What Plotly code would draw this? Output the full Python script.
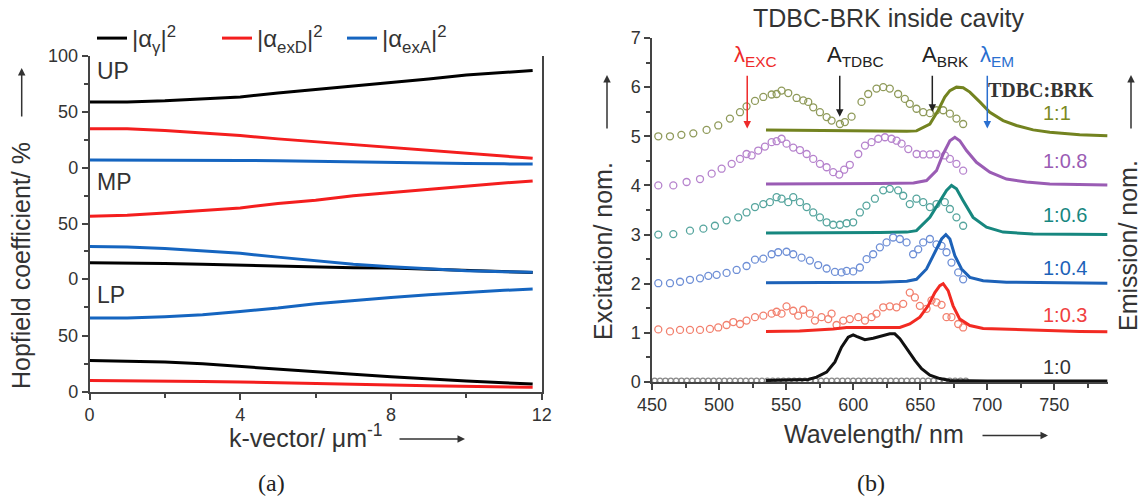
import plotly.graph_objects as go

W, H = 1141, 497
FONT = "Liberation Sans, Arial, sans-serif"

# ---------------- panel (a): Hopfield coefficients ----------------
k_vec = [0, 1, 2, 3, 4, 5, 6, 7, 8, 9, 10, 11, 11.76]
up_photon = [59, 59, 60, 61.5, 63.5, 67, 70, 73.5, 76.5, 79.5, 83, 85.5, 87.1]
up_exD = [35, 35, 33.5, 31.5, 29, 26, 23.5, 21, 18.5, 15.5, 13, 10.5, 8.7]
up_exA = [7.2, 7.2, 7.2, 7.0, 6.8, 6.5, 5.9, 5.5, 5.0, 4.5, 4.0, 3.7, 3.6]
mp_photon = [14.7, 14.5, 13.9, 13.2, 12.4, 11.5, 10.5, 10.1, 9.8, 8.7, 7.5, 6.5, 5.8]
mp_exD = [56.5, 57.5, 59.5, 61.5, 64, 68, 71, 75, 78, 81, 83.5, 86.5, 88.4]
mp_exA = [29.2, 28.8, 27.5, 25.4, 23.1, 19.7, 16.2, 13.3, 11, 9, 7.5, 6.6, 6.1]
lp_photon = [27.8, 27.5, 26.6, 24.9, 22.5, 20.1, 18, 15.7, 13.6, 11.5, 9.8, 8.2, 7.1]
lp_exD = [10.1, 10, 9.7, 9.2, 8.8, 8.3, 7.6, 6.8, 6.2, 5.6, 5.0, 4.4, 4.1]
lp_exA = [65.4, 65.4, 66.5, 68.3, 71.3, 74.3, 78.1, 81.1, 83.7, 86.1, 88.2, 90, 91.1]
legend_names = ["|α<sub>γ</sub>|<sup>2</sup>", "|α<sub>exD</sub>|<sup>2</sup>", "|α<sub>exA</sub>|<sup>2</sup>"]
panel_labels = ["UP", "MP", "LP"]
k_ticks = [0, 4, 8, 12]

# ---------------- panel (b): excitation (circles) and emission (lines) ----------------
ratio_labels = ["1:1", "1:0.8", "1:0.6", "1:0.4", "1:0.3", "1:0"]
ratio_label_y = [5.47, 4.49, 3.39, 2.33, 1.36, 0.30]

exc_11_wl = [454.7, 463.4, 471.9, 480.8, 490.7, 499.4, 508.1, 515.6, 520.5, 526.8, 533, 539.2, 542.9, 546.6,
             551.6, 557.8, 562.8, 566.5, 570.2, 575.2, 580.2, 583.9, 590.1, 593.8, 598.8, 606.2, 611.2, 617.4,
             622.4, 627.3, 633.5, 638.5, 642.2, 647.2, 652.2, 657.2, 662.1, 667.1, 672.1, 677, 682]
exc_11 = [5.0, 5.0, 5.03, 5.06, 5.13, 5.22, 5.36, 5.49, 5.61, 5.72, 5.80, 5.85, 5.86, 5.93,
          5.88, 5.78, 5.73, 5.70, 5.59, 5.49, 5.39, 5.32, 5.25, 5.29, 5.40, 5.70, 5.86, 5.97,
          6.0, 5.97, 5.86, 5.76, 5.66, 5.56, 5.49, 5.47, 5.53, 5.53, 5.46, 5.36, 5.25]
em_11_wl = [535, 560, 590, 620, 640, 647.2, 657.2, 663.4, 668.3, 672.1, 677, 682, 687, 694.4, 701.9,
            711.8, 721.7, 734.2, 746.6, 768.9, 789.5]
em_11 = [5.13, 5.12, 5.11, 5.10, 5.10, 5.11, 5.25, 5.53, 5.80, 5.93, 6.0, 5.99, 5.90, 5.70, 5.49,
         5.32, 5.22, 5.13, 5.08, 5.03, 5.01]

exc_108_wl = [454.7, 465.9, 475.8, 485.8, 494.5, 501.9, 509.4, 515.6, 520.5, 524.3, 529.2, 534.2, 539.2,
              542.9, 546.6, 550.3, 555.3, 560.3, 565.3, 570.2, 575.2, 580.2, 585.1, 589.6, 593.3, 597.5,
              603.8, 608.8, 613.7, 618.7, 623.7, 628.6, 632.4, 636.1, 641.1, 647.3, 652.2, 657.2, 662.1,
              668.4, 672.1, 677, 682]
exc_108 = [4.0, 4.0, 4.07, 4.13, 4.24, 4.34, 4.44, 4.54, 4.64, 4.61, 4.71, 4.79, 4.88,
           4.90, 4.95, 4.85, 4.77, 4.72, 4.64, 4.54, 4.44, 4.37, 4.27, 4.22, 4.32, 4.42,
           4.64, 4.81, 4.88, 4.95, 4.98, 4.95, 4.91, 4.85, 4.74, 4.64, 4.63, 4.63, 4.64,
           4.61, 4.54, 4.44, 4.30]
em_108_wl = [535, 580, 620, 645, 654.7, 662.1, 667.1, 672.1, 675.8, 679.5, 684.5, 691.9, 701.9, 714.3,
             729.2, 746.6, 768.9, 789.5]
em_108 = [4.03, 4.03, 4.04, 4.05, 4.10, 4.30, 4.64, 4.91, 4.98, 4.91, 4.71, 4.47, 4.27, 4.13,
          4.07, 4.03, 4.02, 4.01]

exc_106_wl = [454.7, 465.9, 478.3, 488.3, 496.9, 505.6, 514.3, 520.5, 526.8, 533, 537.9, 542.9, 546.6,
              551.6, 555.3, 560.3, 565.3, 570.2, 575.2, 580.2, 585.1, 590.1, 595.1, 600, 605, 609.9,
              616.2, 622.4, 627.3, 633.5, 637.3, 642.2, 647.2, 652.2, 657.2, 662.1, 668.3, 672.1, 677, 682]
exc_106 = [3.0, 3.01, 3.08, 3.12, 3.18, 3.29, 3.35, 3.45, 3.56, 3.62, 3.66, 3.76, 3.73,
           3.66, 3.76, 3.66, 3.56, 3.45, 3.35, 3.25, 3.20, 3.20, 3.23, 3.25, 3.45, 3.59,
           3.73, 3.90, 3.93, 3.90, 3.79, 3.62, 3.73, 3.66, 3.56, 3.62, 3.66, 3.52, 3.35, 3.18]
em_106_wl = [535, 580, 620, 640, 647.2, 657.2, 664.6, 669.6, 673.3, 677, 682, 689.4, 699.4, 711.8,
             734.2, 768.9, 789.5]
em_106 = [3.03, 3.03, 3.04, 3.05, 3.08, 3.35, 3.69, 3.90, 4.0, 3.93, 3.69, 3.35, 3.15, 3.05,
          3.01, 3.0, 3.0]

exc_104_wl = [454.7, 463.4, 470.9, 478.3, 485.8, 492, 498.2, 505.6, 513.1, 520.5, 526.8, 533, 539.2,
              544.1, 550.3, 555.3, 561.5, 567.7, 573.9, 580.2, 586.4, 591.3, 595.1, 600, 605, 610,
              614.9, 619.9, 624.9, 629.8, 634.8, 639.8, 644.7, 648.5, 652.2, 657.2, 662.1, 665.9,
              669.6, 673.3, 678.3, 682]
exc_104 = [2.01, 2.01, 2.04, 2.08, 2.11, 2.16, 2.18, 2.22, 2.28, 2.36, 2.49, 2.51, 2.60,
           2.64, 2.65, 2.60, 2.53, 2.47, 2.38, 2.31, 2.24, 2.23, 2.26, 2.25, 2.33, 2.50,
           2.60, 2.74, 2.84, 2.94, 2.91, 2.84, 2.60, 2.70, 2.84, 2.91, 2.80, 2.77,
           2.64, 2.43, 2.23, 2.09]
em_104_wl = [535, 580, 620, 640, 647.2, 654.7, 660.9, 665.9, 669.1, 672.1, 675.8, 680.8, 687, 696.9,
             714.3, 768.9, 789.5]
em_104 = [2.02, 2.02, 2.03, 2.05, 2.09, 2.30, 2.64, 2.91, 3.0, 2.91, 2.57, 2.30, 2.13, 2.06,
          2.03, 2.01, 2.01]

exc_103_wl = [454.7, 463.4, 470.9, 478.3, 485.8, 493.2, 499.4, 505.6, 510.6, 515.6, 520.5, 526.8, 533,
              539.2, 542.9, 546.6, 550.3, 555.3, 559, 562.8, 567.7, 571.5, 576.4, 581.4, 583.9, 587.6,
              592.6, 597.5, 603.8, 608.8, 613.7, 617.4, 622.4, 627.3, 632.3, 637.3, 642.2, 646,
              649.7, 654.7, 658.4, 662.1, 665.9, 669.6, 673.3, 678.3, 682]
exc_103 = [1.07, 1.03, 1.06, 1.06, 1.06, 1.08, 1.11, 1.16, 1.22, 1.18, 1.25, 1.32, 1.35,
           1.39, 1.43, 1.39, 1.54, 1.45, 1.35, 1.47, 1.39, 1.25, 1.32, 1.28, 1.39, 1.16,
           1.25, 1.28, 1.32, 1.25, 1.32, 1.39, 1.52, 1.54, 1.52, 1.59, 1.82, 1.72,
           1.55, 1.49, 1.66, 1.62, 1.57, 1.32, 1.32, 1.18, 1.11]
em_103_wl = [535, 560, 585.1, 595.1, 615, 634.8, 642.2, 649.7, 655.9, 660.9, 664.6, 667.1, 670.8, 674.5,
             679.5, 687, 696.9, 716.8, 768.9, 789.5]
em_103 = [1.03, 1.04, 1.08, 1.11, 1.11, 1.11, 1.18, 1.32, 1.55, 1.82, 1.96, 2.0, 1.86, 1.55,
          1.28, 1.15, 1.09, 1.07, 1.03, 1.02]

exc_10_wl = [452, 456, 460, 464, 468, 472, 476, 480, 484, 488, 492, 496, 500, 504, 508, 512, 516, 520,
             524, 528, 532, 536, 540, 544, 548, 552, 556, 560, 564, 568, 572, 576, 580, 584, 588, 592,
             596, 600, 604, 608, 612, 616, 620, 624, 628, 632, 636, 640, 644, 648, 652, 656, 660, 664,
             668, 672, 676, 680, 684]
exc_10 = [0.03, 0.03, 0.03, 0.03, 0.03, 0.03, 0.03, 0.03, 0.03, 0.03, 0.03, 0.03, 0.03, 0.03, 0.03,
          0.03, 0.03, 0.03, 0.03, 0.03, 0.03, 0.03, 0.03, 0.03, 0.03, 0.03, 0.03, 0.03, 0.03, 0.03,
          0.03, 0.03, 0.03, 0.03, 0.03, 0.03, 0.03, 0.03, 0.03, 0.03, 0.03, 0.03, 0.03, 0.03, 0.03,
          0.03, 0.03, 0.03, 0.03, 0.03, 0.03, 0.03, 0.03, 0.03, 0.03, 0.03, 0.03, 0.03, 0.03]
em_10_wl = [535, 566.5, 572.7, 580.2, 586.4, 591.3, 596.3, 600, 602.5, 608.7, 614.9, 621.1, 627.3, 631,
            634.8, 641, 646, 651, 657.2, 664.6, 672.1, 700, 740, 789.5]
em_10 = [0.03, 0.05, 0.10, 0.20, 0.41, 0.71, 0.91, 0.96, 0.93, 0.86, 0.89, 0.93, 0.98, 0.98,
         0.88, 0.64, 0.44, 0.27, 0.14, 0.07, 0.03, 0.02, 0.02, 0.02]

marker_names = ["λ<sub>EXC</sub>", "A<sub>TDBC</sub>", "A<sub>BRK</sub>", "λ<sub>EM</sub>"]
marker_wl = [521, 590, 659, 700]
marker_tip = [5.16, 5.40, 5.50, 5.16]
marker_text_wl = [527, 602, 669, 707]
marker_colors = ["#ee2a2a", "#222222", "#222222", "#2a6fd0"]

# ---------------- helpers ----------------
def px(x):
    return x / W

def py(y):
    return 1 - y / H

C_BLACK, C_RED, C_BLUE = "#000000", "#f41e1e", "#1565c0"
AX = "#444444"

fig = go.Figure()

panels = [("y", up_photon, up_exD, up_exA), ("y2", mp_photon, mp_exD, mp_exA), ("y3", lp_photon, lp_exD, lp_exA)]
for i, (yax, ph, exd, exa) in enumerate(panels):
    for name, vals, col in zip(legend_names, (ph, exd, exa), (C_BLACK, C_RED, C_BLUE)):
        fig.add_trace(go.Scatter(x=k_vec, y=vals, mode="lines", xaxis="x", yaxis=yax,
                                 line=dict(color=col, width=3), name=name, legendgroup=name,
                                 showlegend=(i == 0)))

series_b = [
    (exc_11_wl, exc_11, em_11_wl, em_11, "#8f9a5a", "#738320"),
    (exc_108_wl, exc_108, em_108_wl, em_108, "#b683cd", "#9a5cb4"),
    (exc_106_wl, exc_106, em_106_wl, em_106, "#56a59e", "#17877f"),
    (exc_104_wl, exc_104, em_104_wl, em_104, "#6e8fd6", "#1d62b8"),
    (exc_103_wl, exc_103, em_103_wl, em_103, "#f2806e", "#f22a22"),
    (exc_10_wl, exc_10, em_10_wl, em_10, "#8a8a8a", "#111111"),
]
label_colors = ["#7b8a22", "#9a5cb4", "#17877f", "#1d62b8", "#f04040", "#333333"]
for ewl, ev, mwl, mv, ccol, lcol in series_b:
    fig.add_trace(go.Scatter(x=ewl, y=ev, mode="markers", xaxis="x2", yaxis="y4", showlegend=False,
                             marker=dict(symbol="circle-open", size=7 if ccol != "#8a8a8a" else 5,
                                         color=ccol, line=dict(width=1.3, color=ccol))))
    fig.add_trace(go.Scatter(x=mwl, y=mv, mode="lines", xaxis="x2", yaxis="y4", showlegend=False,
                             line=dict(color=lcol, width=3)))

tickfont = dict(family=FONT, size=18, color="#333333")
dom_a = [px(89.5), px(541.7)]
common_line = dict(showline=True, linecolor=AX, linewidth=1.5, zeroline=False, showgrid=False,
                   automargin=False)

layout = dict(
    width=W, height=H, autosize=False,
    margin=dict(l=0, r=0, t=0, b=0, pad=0, autoexpand=False),
    paper_bgcolor="white", plot_bgcolor="white",
    font=dict(family=FONT, color="#333333"),
    showlegend=True,
    legend=dict(orientation="h", x=px(92), y=py(16), xanchor="left", yanchor="top",
                xref="container", yref="container",
                font=dict(family=FONT, size=24, color="#333333"), bgcolor="rgba(0,0,0,0)",
                entrywidth=80, entrywidthmode="pixels", itemclick=False),
    xaxis=dict(domain=dom_a, range=[0, 12], anchor="y3", tickvals=k_ticks, ticks="outside", ticklen=6,
               tickcolor=AX, tickwidth=1.5, tickfont=tickfont,
               minor=dict(tickvals=[2, 6, 10], ticks="outside", ticklen=4, tickcolor=AX, tickwidth=1.5),
               **common_line),
    xaxis4=dict(domain=dom_a, range=[0, 12], anchor="y", matches="x", showticklabels=False,
                tickvals=[2.5, 5, 7.5, 10], ticks="outside", ticklen=5, tickcolor=AX, tickwidth=1.5,
                mirror=True, **common_line),
    xaxis5=dict(domain=dom_a, range=[0, 12], anchor="y2", matches="x", showticklabels=False,
                tickvals=[2.5, 5, 7.5, 10], ticks="outside", ticklen=5, tickcolor=AX, tickwidth=1.5,
                **common_line),
    yaxis=dict(domain=[py(168), py(56)], range=[0, 100], anchor="x", tickvals=[0, 50, 100],
               ticks="outside", ticklen=6, tickcolor=AX, tickwidth=1.5, tickfont=tickfont, mirror=True,
               minor=dict(tickvals=[25, 75], ticks="outside", ticklen=4, tickcolor=AX, tickwidth=1.5),
               **common_line),
    yaxis2=dict(domain=[py(279), py(168)], range=[0, 100], anchor="x", tickvals=[0, 50],
                ticks="outside", ticklen=6, tickcolor=AX, tickwidth=1.5, tickfont=tickfont, mirror=True,
                minor=dict(tickvals=[25, 75], ticks="outside", ticklen=4, tickcolor=AX, tickwidth=1.5),
                **common_line),
    yaxis3=dict(domain=[py(392), py(279)], range=[0, 100], anchor="x", tickvals=[0, 50],
                ticks="outside", ticklen=6, tickcolor=AX, tickwidth=1.5, tickfont=tickfont, mirror=True,
                minor=dict(tickvals=[25, 75], ticks="outside", ticklen=4, tickcolor=AX, tickwidth=1.5),
                **common_line),
    xaxis2=dict(domain=[px(652), px(1108)], range=[450, 790], anchor="y4", tick0=450, dtick=50,
                ticks="outside", ticklen=6, tickcolor=AX, tickwidth=1.5, tickfont=tickfont,
                minor=dict(dtick=25, ticks="outside", ticklen=4, tickcolor=AX, tickwidth=1.5),
                **common_line),
    xaxis3=dict(domain=[px(652), px(1108)], range=[450, 790], anchor="y4", overlaying="x2", side="top",
                tick0=450, dtick=50, ticks="inside", ticklen=6, tickcolor=AX, tickwidth=1.5,
                showticklabels=False,
                minor=dict(dtick=25, ticks="inside", ticklen=4, tickcolor=AX, tickwidth=1.5),
                **common_line),
    yaxis4=dict(domain=[py(382), py(38)], range=[0, 7], anchor="x2", dtick=1, ticks="outside", ticklen=6,
                tickcolor=AX, tickwidth=1.5, tickfont=tickfont,
                minor=dict(dtick=0.5, ticks="outside", ticklen=4, tickcolor=AX, tickwidth=1.5),
                **common_line),
    yaxis5=dict(domain=[py(382), py(38)], range=[0, 7], anchor="x2", overlaying="y4", side="right",
                dtick=1, ticks="inside", ticklen=6, tickcolor=AX, tickwidth=1.5, showticklabels=False,
                minor=dict(dtick=0.5, ticks="inside", ticklen=4, tickcolor=AX, tickwidth=1.5),
                **common_line),
)
fig.update_layout(**layout)

ann = []
# panel labels UP/MP/LP
for lab, yc in zip(panel_labels, [71, 181.5, 294.5]):
    ann.append(dict(text=lab, x=px(95), y=py(yc), xref="paper", yref="paper", xanchor="left",
                    yanchor="middle", showarrow=False, font=dict(family=FONT, size=23, color="#333333")))

# axis titles with arrows
def arrow(x0, y0, dx, dy):
    return dict(text="", x=px(x0), y=py(y0), xref="paper", yref="paper", ax=dx, ay=dy,
                axref="pixel", ayref="pixel", showarrow=True, arrowhead=2, arrowsize=1,
                arrowwidth=1.5, arrowcolor="#333333")

title_font = dict(family=FONT, size=25, color="#333333")
ann.append(dict(text="Hopfield coefficient/ %", x=px(21), y=py(266), xref="paper", yref="paper",
                textangle=-90, showarrow=False, font=title_font, xanchor="center", yanchor="middle"))
ann.append(arrow(21.7, 68, 0, 50))
ann.append(dict(text="k-vector/ μm<sup>-1</sup>", x=px(306), y=py(436), xref="paper", yref="paper",
                showarrow=False, font=title_font, xanchor="center", yanchor="middle"))
ann.append(arrow(465, 439, -67, 0))

ann.append(dict(text="TDBC-BRK inside cavity", x=px(888), y=py(18), xref="paper", yref="paper",
                showarrow=False, font=title_font, xanchor="center", yanchor="middle"))
ann.append(dict(text="Excitation/ nom.", x=px(603), y=py(251), xref="paper", yref="paper",
                textangle=-90, showarrow=False, font=title_font, xanchor="center", yanchor="middle"))
ann.append(arrow(607, 75, 0, 55))
ann.append(dict(text="Emission/ nom.", x=px(1128), y=py(246), xref="paper", yref="paper",
                textangle=-90, showarrow=False, font=title_font, xanchor="center", yanchor="middle"))
ann.append(arrow(1131, 75, 0, 55))
ann.append(dict(text="Wavelength/ nm", x=px(874), y=py(434), xref="paper", yref="paper",
                showarrow=False, font=title_font, xanchor="center", yanchor="middle"))
ann.append(arrow(1048, 435.5, -67, 0))

# sub-figure labels
for lab, xc in (("(a)", 271), ("(b)", 871)):
    ann.append(dict(text=lab, x=px(xc), y=py(483), xref="paper", yref="paper", showarrow=False,
                    font=dict(family="Liberation Serif, DejaVu Serif, serif", size=24, color="#222222"),
                    xanchor="center", yanchor="middle"))

# ratio labels
for lab, yv, col in zip(ratio_labels, ratio_label_y, label_colors):
    ann.append(dict(text=lab, x=740, y=yv, xref="x2", yref="y4", xanchor="left", yanchor="middle",
                    showarrow=False, font=dict(family=FONT, size=20, color=col)))
ann.append(dict(text="<b>TDBC:BRK</b>", x=781, y=5.95, xref="x2", yref="y4", xanchor="right",
                yanchor="middle", showarrow=False,
                font=dict(family="Liberation Serif, Times New Roman, serif", size=20, color="#333333")))

# band markers with arrows
for name, wl, tip, twl, col in zip(marker_names, marker_wl, marker_tip, marker_text_wl, marker_colors):
    ann.append(dict(text="", x=wl, y=tip, xref="x2", yref="y4", ax=wl, ay=6.26, axref="x2", ayref="y4",
                    showarrow=True, arrowhead=2, arrowsize=1, arrowwidth=1.5, arrowcolor=col))
    ann.append(dict(text=name, x=twl, y=6.30, xref="x2", yref="y4", xanchor="center", yanchor="bottom",
                    showarrow=False, font=dict(family=FONT, size=22, color=col)))

fig.update_layout(annotations=ann)
fig.write_html("out.html", config={"displayModeBar": False},
               post_script="document.body.style.margin='0px';document.body.style.overflow='hidden';")
